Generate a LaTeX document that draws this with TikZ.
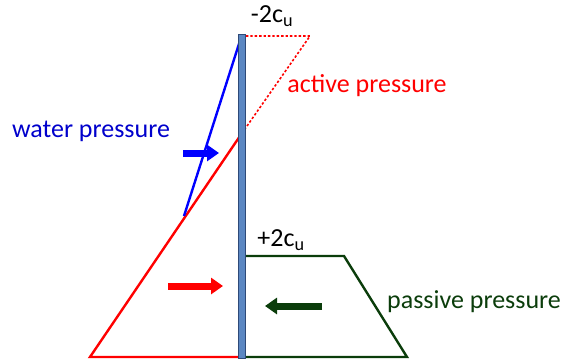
\documentclass[tikz,border=0pt]{standalone}
\usepackage{fontspec}
\setmainfont{Carlito}
\usetikzlibrary{arrows.meta}
\definecolor{water}{HTML}{0000FF}
\definecolor{waterText}{HTML}{0000CC}
\definecolor{active}{HTML}{FF0000}
\definecolor{passive}{HTML}{0B3D0B}
\definecolor{wallFill}{HTML}{5B87C2}
\definecolor{wallEdge}{HTML}{2E4A78}
\tikzset{
    pressure line/.style={line width=2.4pt, line join=miter},
    load arrow/.style={line width=7pt, -{Triangle[length=12pt,width=16pt]}},
    label text/.style={font=\fontsize{26}{28}\selectfont, inner sep=0pt},
    wall/.style={fill=wallFill, draw=wallEdge, line width=0.8pt},
}
\begin{document}
\begin{tikzpicture}[x=1pt,y=-1pt]
\useasboundingbox (0,0) rectangle (565,360);

% key points of the diagram
\coordinate (wallTop) at (241.5,36);
\coordinate (wallBase) at (241.5,357);
\coordinate (dotCorner) at (310,36);
\coordinate (activeZero) at (240,136);
\coordinate (activeToe) at (90,357);
\coordinate (waterToe) at (184,216);
\coordinate (passTop) at (245,256);
\coordinate (passCorner) at (344,256);
\coordinate (passToe) at (407,357);

% active pressure
\draw[active, pressure line, dotted, line width=1.6pt]
    (wallTop) -- (dotCorner) -- (activeZero);
\draw[active, pressure line] (activeZero) -- (activeToe) -- (wallBase);

% water pressure
\draw[water, pressure line] (wallTop) -- (waterToe);

% passive pressure
\draw[passive, pressure line] (passTop) -- (passCorner) -- (passToe) -- (wallBase -| passTop);

% resultant arrows
\coordinate (waterTail) at (183,153);
\coordinate (waterHead) at (219,153);
\draw[load arrow, water] (waterTail) -- (waterHead);
\coordinate (activeTail) at (168,286);
\coordinate (activeHead) at (223,286);
\draw[load arrow, active] (activeTail) -- (activeHead);
\coordinate (passTail) at (322,306);
\coordinate (passHead) at (265,306);
\draw[load arrow, passive] (passTail) -- (passHead);

% sheet pile wall
\draw[wall] (238,34) rectangle (245,358);

% labels
\node[label text] (topLabel) at (272,16) {-2c\textsubscript{u}};
\node[label text, text=active] (activeLabel) at (367,86) {active pressure};
\node[label text, text=waterText] (waterLabel) at (91,131) {water pressure};
\node[label text] (baseLabel) at (281,240) {+2c\textsubscript{u}};
\node[label text, text=passive] (passiveLabel) at (474,302) {passive pressure};

\end{tikzpicture}
\end{document}
